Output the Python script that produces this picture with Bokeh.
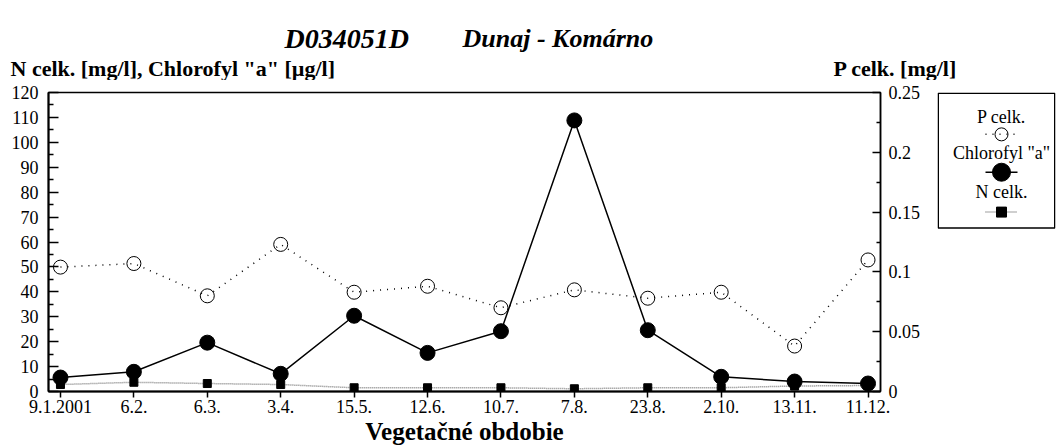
from bokeh.plotting import figure
from bokeh.layouts import column, row
from bokeh.models import (Range1d, LinearAxis, FixedTicker,
                          PrintfTickFormatter, Label)
from bokeh.embed import file_html
from bokeh.resources import INLINE

# ---- data ----
dates = ["9.1.2001", "6.2.", "6.3.", "3.4.", "15.5.", "12.6.", "10.7.", "7.8.",
         "23.8.", "2.10.", "13.11.", "11.12."]
chl_a = [5.6, 7.9, 19.6, 7.1, 30.4, 15.5, 24.2, 108.8, 24.6, 5.9, 4.0, 3.2]
p_celk = [0.104, 0.107, 0.080, 0.123, 0.083, 0.088, 0.070, 0.085, 0.078, 0.083, 0.038, 0.110]
n_celk = [2.8, 3.7, 3.2, 2.8, 1.5, 1.5, 1.5, 1.1, 1.5, 1.5, 2.2, 2.4]
left_ticks = [0, 10, 20, 30, 40, 50, 60, 70, 80, 90, 100, 110, 120]
right_ticks = [0, 0.05, 0.1, 0.15, 0.2, 0.25]
series_names = ["P celk.", 'Chlorofyl "a"', "N celk."]
xi = list(range(len(dates)))

FONT = "Liberation Serif"


def bare(fig):
    fig.grid.visible = False
    fig.toolbar.logo = None


# ---------------- header (titles) ----------------
hdr = figure(width=1056, height=80, output_backend="svg", toolbar_location=None,
             x_range=Range1d(0, 1056), y_range=Range1d(0, 80),
             x_axis_location=None, y_axis_location=None, min_border=0,
             min_border_left=0, min_border_right=0, min_border_top=0,
             min_border_bottom=0, outline_line_color=None)
bare(hdr)


def hlab(text, x, y, size, style):
    hdr.add_layout(Label(x=x, y=y, x_units="screen", y_units="screen", text=text,
                         text_font=FONT, text_font_size=size, text_font_style=style,
                         text_align="left", text_baseline="alphabetic",
                         text_color="black"))


hlab("D034051D", 284, 42, "28px", "bold italic")
hlab("Dunaj - Komárno", 462, 42, "26px", "bold italic")
hlab('N celk. [mg/l], Chlorofyl "a" [µg/l]', 10, 12, "22px", "bold")
hlab("P celk. [mg/l]", 833, 12, "22px", "bold")

# ---------------- main chart ----------------
p = figure(width=936, height=367, output_backend="svg", toolbar_location=None,
           x_range=Range1d(-0.163, 11.17), y_range=Range1d(0, 120),
           min_border_left=48, min_border_right=56, min_border_top=12,
           min_border_bottom=55, background_fill_color="white",
           border_fill_color="white")
bare(p)
p.extra_y_ranges = {"p": Range1d(0, 0.25)}
p.outline_line_color = "black"
p.outline_line_width = 1.5

xa = p.xaxis[0]
xa.ticker = FixedTicker(ticks=xi, minor_ticks=[])
xa.major_label_overrides = {i: d for i, d in enumerate(dates)}
xa.axis_line_width = 2
xa.major_tick_in = 0
xa.major_tick_out = 6
xa.major_tick_line_width = 1.5
xa.minor_tick_line_color = None
xa.major_label_standoff = 2
xa.major_label_text_font = FONT
xa.major_label_text_font_size = "18px"
xa.major_label_text_color = "black"
xa.axis_label = "Vegetačné obdobie"
xa.axis_label_text_font = FONT
xa.axis_label_text_font_size = "25px"
xa.axis_label_text_font_style = "bold"
xa.axis_label_text_color = "black"
xa.axis_label_standoff = 2

ya = p.yaxis[0]
ya.ticker = FixedTicker(ticks=left_ticks, minor_ticks=[v + 5 for v in left_ticks[:-1]])
ya.axis_line_width = 2
ya.major_tick_in = 10
ya.major_tick_out = 0
ya.minor_tick_in = 5
ya.minor_tick_out = 0
ya.major_tick_line_width = 1.5
ya.minor_tick_line_width = 1.5
ya.major_label_standoff = 10
ya.major_label_text_font = FONT
ya.major_label_text_font_size = "18px"
ya.major_label_text_color = "black"

ra = LinearAxis(y_range_name="p",
                ticker=FixedTicker(ticks=right_ticks,
                                   minor_ticks=[0.025, 0.075, 0.125, 0.175, 0.225]),
                formatter=PrintfTickFormatter(format="%g"))
ra.axis_line_width = 1.5
ra.major_tick_in = 8
ra.major_tick_out = 0
ra.minor_tick_in = 4
ra.minor_tick_out = 0
ra.major_tick_line_width = 1.5
ra.minor_tick_line_width = 1.5
ra.major_label_standoff = 8
ra.major_label_text_font = FONT
ra.major_label_text_font_size = "18px"
ra.major_label_text_color = "black"
p.add_layout(ra, "right")

# series styles
P_LINE = dict(line_color="black", line_width=1.5, line_dash="1 6")
P_MARK = dict(marker="circle", fill_color=None, line_color="black", line_width=1)
C_LINE = dict(line_color="black", line_width=1.5)
C_MARK = dict(marker="circle", fill_color="black", line_color="black")
N_LINE = dict(line_color="#808080", line_width=1.5, line_dash="1 1")
N_MARK = dict(marker="square", fill_color="black", line_color="black")

p.line(xi, p_celk, y_range_name="p", **P_LINE)
p.scatter(xi, p_celk, y_range_name="p", size=14, **P_MARK)
p.line(xi, n_celk, **N_LINE)
p.scatter(xi, n_celk, size=8, **N_MARK)
p.line(xi, chl_a, **C_LINE)
p.scatter(xi, chl_a, size=15, **C_MARK)

# ---------------- legend panel (pixel-like coordinates) ----------------
leg = figure(width=120, height=367, output_backend="svg", toolbar_location=None,
             x_range=Range1d(0, 118), y_range=Range1d(0, 300),
             x_axis_location=None, y_axis_location=None,
             min_border_left=1, min_border_right=1, min_border_top=12,
             min_border_bottom=55, outline_line_color=None)
bare(leg)
leg.quad(left=[0.75], right=[117.25], top=[299.25], bottom=[164],
         fill_color="white", line_color="black", line_width=1.5)

cx = 64
text_y = [275, 239, 200]
mark_y = [258, 220, 180]
styles = [(P_LINE, P_MARK, 13), (C_LINE, C_MARK, 18), (N_LINE, N_MARK, 10)]
for name, ty, my, (ls, ms, sz) in zip(series_names, text_y, mark_y, styles):
    leg.add_layout(Label(x=cx, y=ty, x_units="screen", y_units="screen", text=name,
                         text_font=FONT, text_font_size="18px", text_align="center",
                         text_baseline="middle", text_color="black"))
    leg.line([cx - 16, cx + 16], [my, my], **ls)
    leg.scatter([cx], [my], size=sz, **ms)

layout = column(hdr, row(p, leg))
open("out.html", "w").write(file_html(layout, INLINE))
